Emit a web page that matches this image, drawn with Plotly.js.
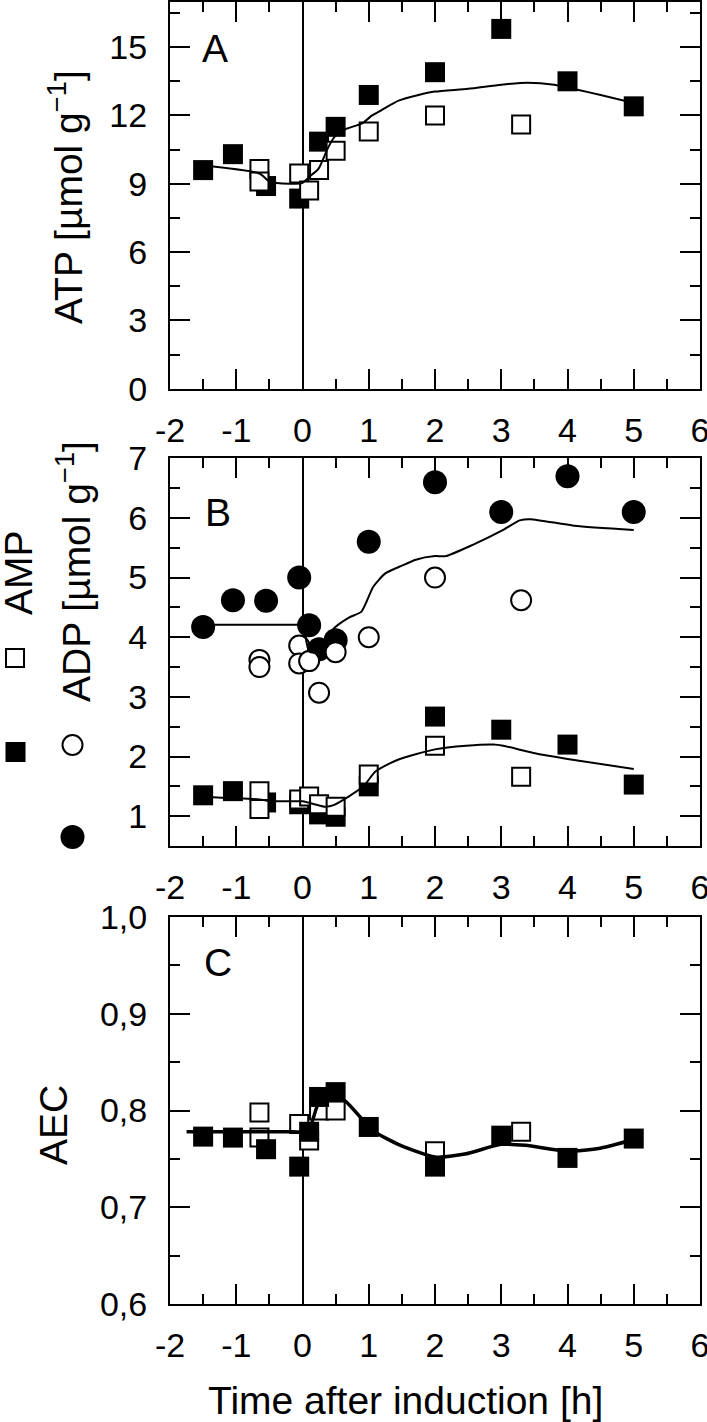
<!DOCTYPE html>
<html>
<head>
<meta charset="utf-8">
<script src="https://cdn.plot.ly/plotly-3.0.1.min.js"></script>
<style>html,body{margin:0;padding:0;background:#fff;}#chart{width:707px;height:1422px;}</style>
</head>
<body>
<div id="chart"></div>
<script>
// ---------- DATA ----------
// Panel A : ATP [µmol g-1]
const atpFilledT = [-1.5, -1.05, -0.55, -0.05, 0.25, 0.5, 1, 2, 3, 4, 5];
const atpFilled  = [9.6, 10.3, 8.9, 8.35, 10.85, 11.5, 12.9, 13.9, 15.8, 13.5, 12.4];
const atpOpenT   = [-0.65, -0.65, -0.05, 0.1, 0.25, 0.5, 1, 2, 3.3];
const atpOpen    = [9.65, 9.1, 9.45, 8.7, 9.6, 10.45, 11.3, 12.0, 11.6];
const atpFitT    = [-1.5, -0.65, -0.5, -0.2, 0, 0.1, 0.24, 0.38, 0.48, 0.65, 0.9, 1.05, 1.2, 1.45, 1.75, 2.0, 2.5, 3.0, 3.4, 3.8, 4.15, 4.5, 5.0];
const atpFit     = [9.8, 9.45, 9.1, 9.0, 9.04, 9.3, 9.65, 10.55, 11.05, 11.4, 11.65, 12.0, 12.25, 12.65, 12.9, 13.05, 13.17, 13.35, 13.44, 13.35, 13.13, 12.9, 12.55];

// Panel B : ADP and AMP [µmol g-1]
const adpFilledT = [-1.5, -1.05, -0.55, -0.05, 0.1, 0.25, 0.5, 1, 2, 3, 4, 5];
const adpFilled  = [4.17, 4.62, 4.61, 5.0, 4.2, 3.8, 3.95, 5.6, 6.6, 6.1, 6.7, 6.1];
const adpOpenT   = [-0.65, -0.65, -0.05, -0.05, 0.1, 0.25, 0.5, 1, 2, 3.3];
const adpOpen    = [3.62, 3.5, 3.86, 3.56, 3.6, 3.07, 3.75, 4.0, 5.0, 4.62];
const adpFitT    = [-1.5, -1.0, -0.5, -0.1, 0, 0.1, 0.25, 0.38, 0.46, 0.7, 0.89, 1.07, 1.25, 1.5, 1.71, 2.0, 2.16, 2.57, 3.03, 3.28, 3.44, 4.1, 5.0];
const adpFit     = [4.21, 4.21, 4.21, 4.21, 4.21, 3.76, 3.74, 3.85, 4.13, 4.33, 4.43, 4.85, 5.07, 5.2, 5.3, 5.36, 5.36, 5.55, 5.8, 5.96, 5.98, 5.87, 5.8];

const ampFilledT = [-1.5, -1.05, -0.55, -0.05, 0.25, 0.5, 1, 2, 3, 4, 5];
const ampFilled  = [1.35, 1.42, 1.23, 1.2, 1.03, 0.99, 1.5, 2.67, 2.45, 2.2, 1.53];
const ampOpenT   = [-0.65, -0.65, -0.05, 0.1, 0.25, 0.5, 1, 2, 3.3];
const ampOpen    = [1.42, 1.12, 1.28, 1.33, 1.2, 1.16, 1.7, 2.18, 1.66];
const ampFitT    = [-1.5, -0.65, -0.48, 0, 0.08, 0.33, 0.48, 0.92, 1.1, 1.45, 2.0, 2.47, 2.88, 3.03, 3.49, 4.0, 5.0];
const ampFit     = [1.32, 1.28, 1.25, 1.25, 1.23, 1.16, 1.19, 1.5, 1.75, 1.95, 2.12, 2.18, 2.2, 2.18, 2.06, 1.96, 1.79];

// Panel C : AEC
const aecFilledT = [-1.5, -1.05, -0.55, -0.05, 0.1, 0.25, 0.5, 1, 2, 3, 4, 5];
const aecFilled  = [0.773, 0.772, 0.760, 0.742, 0.778, 0.814, 0.819, 0.783, 0.742, 0.774, 0.751, 0.771];
const aecOpenT   = [-0.65, -0.65, -0.05, 0.1, 0.25, 0.5, 2, 3.3];
const aecOpen    = [0.798, 0.772, 0.786, 0.769, 0.80, 0.80, 0.758, 0.778];
const aecFitT    = [-1.75, -1.0, -0.15, 0.08, 0.26, 0.51, 0.66, 1.07, 1.48, 2.0, 2.45, 3.0, 3.37, 4.0, 4.49, 5.0];
const aecFit     = [0.778, 0.778, 0.778, 0.778, 0.81, 0.815, 0.809, 0.779, 0.764, 0.752, 0.755, 0.765, 0.764, 0.758, 0.761, 0.770];

// Ticks and labels
const xTickVals = [-2, -1, 0, 1, 2, 3, 4, 5, 6];
const xTickText = ['-2', '-1', '0', '1', '2', '3', '4', '5', '6'];
const atpTickVals = [0, 3, 6, 9, 12, 15];
const atpTickText = ['0', '3', '6', '9', '12', '15'];
const nucTickVals = [1, 2, 3, 4, 5, 6, 7];
const nucTickText = ['1', '2', '3', '4', '5', '6', '7'];
const aecTickVals = [0.6, 0.7, 0.8, 0.9, 1.0];
const aecTickText = ['0,6', '0,7', '0,8', '0,9', '1,0'];

const panelLabels = ['A', 'B', 'C'];
const xTitle = 'Time after induction [h]';
const atpTitle = 'ATP [µmol g<sup>−1</sup>]';
const ampTitle = 'AMP';
const adpTitle = 'ADP [µmol g<sup>−1</sup>]';
const aecTitle = 'AEC';

// ---------- LAYOUT HELPERS ----------
const W = 707, H = 1422;
const px = v => v / W;
const py = v => 1 - v / H;
const FONT = 'Liberation Sans, Arial, Helvetica, sans-serif';

const filledSq = {symbol: 'square', size: 20, color: 'black', line: {width: 0}};
const openSq = {symbol: 'square', size: 18, color: 'white', line: {width: 2, color: 'black'}};
const filledCi = {symbol: 'circle', size: 24, color: 'black', line: {width: 0}};
const openCi = {symbol: 'circle', size: 20, color: 'white', line: {width: 2, color: 'black'}};

function pts(x, y, marker, xa, ya) {
  return {x: x, y: y, type: 'scatter', mode: 'markers', marker: marker, xaxis: xa, yaxis: ya, cliponaxis: false, hoverinfo: 'skip'};
}
function fit(x, y, w, xa, ya) {
  return {x: x, y: y, type: 'scatter', mode: 'lines', line: {color: 'black', width: w, shape: 'spline', smoothing: 0.6}, xaxis: xa, yaxis: ya, hoverinfo: 'skip'};
}

const traces = [
  pts(atpFilledT, atpFilled, filledSq, 'x', 'y'),
  pts(atpOpenT, atpOpen, openSq, 'x', 'y'),
  fit(atpFitT, atpFit, 2, 'x', 'y'),

  pts(adpFilledT, adpFilled, filledCi, 'x2', 'y2'),
  pts(adpOpenT, adpOpen, openCi, 'x2', 'y2'),
  pts(ampFilledT, ampFilled, filledSq, 'x2', 'y2'),
  pts(ampOpenT, ampOpen, openSq, 'x2', 'y2'),
  fit(adpFitT, adpFit, 2, 'x2', 'y2'),
  fit(ampFitT, ampFit, 2, 'x2', 'y2'),

  pts(aecOpenT, aecOpen, openSq, 'x3', 'y3'),
  pts(aecFilledT, aecFilled, filledSq, 'x3', 'y3'),
  fit(aecFitT, aecFit, 3.5, 'x3', 'y3'),
];

const tickFont = {family: FONT, size: 34, color: 'black'};
const xDomain = [px(170), px(700)];

function xAxis(anchor) {
  return {
    domain: xDomain, anchor: anchor, range: [-2, 6],
    tickmode: 'array', tickvals: xTickVals, ticktext: xTickText,
    ticks: 'inside', ticklen: 20, tickwidth: 2, tickcolor: 'black',
    minor: {tickmode: 'linear', tick0: 0, dtick: 0.5, ticks: 'inside', ticklen: 10, tickwidth: 2, tickcolor: 'black', showgrid: false},
    showline: true, linewidth: 2, linecolor: 'black', mirror: 'ticks',
    zeroline: true, zerolinewidth: 2, zerolinecolor: 'black',
    showgrid: false, tickfont: tickFont, ticklabelstandoff: 10,
    ticklabeloverflow: 'allow', fixedrange: true
  };
}
function yAxis(anchor, domain, range, tv, tt, minorD) {
  return {
    domain: domain, anchor: anchor, range: range,
    tickmode: 'array', tickvals: tv, ticktext: tt,
    ticks: 'inside', ticklen: 20, tickwidth: 2, tickcolor: 'black',
    minor: {tickmode: 'linear', tick0: 0, dtick: minorD, ticks: 'inside', ticklen: 10, tickwidth: 2, tickcolor: 'black', showgrid: false},
    showline: true, linewidth: 2, linecolor: 'black', mirror: 'ticks',
    zeroline: false, showgrid: false, tickfont: tickFont, ticklabelstandoff: 14,
    ticklabeloverflow: 'allow', fixedrange: true
  };
}

const titleFont = {family: FONT, size: 39, color: 'black'};
function ann(text, x, y, angle) {
  return {text: text, x: px(x), y: py(y), xref: 'paper', yref: 'paper', showarrow: false,
          xanchor: 'center', yanchor: 'middle', textangle: angle || 0, font: titleFont};
}

// legend keys beside the rotated AMP / ADP labels (layout shapes, pixel positions)
function keyShape(type, cx, cy, side, filled) {
  const h = side / 2;
  return {type: type, xref: 'paper', yref: 'paper', layer: 'above',
          x0: px(cx - h), x1: px(cx + h), y0: py(cy + h), y1: py(cy - h),
          fillcolor: filled ? 'black' : 'white',
          line: {color: 'black', width: filled ? 0 : 2}};
}

const layout = {
  width: W, height: H,
  margin: {l: 0, r: 0, t: 0, b: 0, pad: 0},
  paper_bgcolor: 'white', plot_bgcolor: 'white',
  showlegend: false,
  font: {family: FONT, color: 'black'},
  xaxis: xAxis('y'),
  yaxis: yAxis('x', [py(388.7), py(1.6)], [0, 17], atpTickVals, atpTickText, 1.5),
  xaxis2: xAxis('y2'),
  yaxis2: yAxis('x2', [py(846), py(458.3)], [0.5, 7], nucTickVals, nucTickText, 0.5),
  xaxis3: xAxis('y3'),
  yaxis3: yAxis('x3', [py(1304), py(917)], [0.6, 1.0], aecTickVals, aecTickText, 0.05),
  shapes: [
    keyShape('rect', 15, 658, 18, false),
    keyShape('rect', 15.5, 752, 20, true),
    keyShape('circle', 72.5, 745, 20, false),
    keyShape('circle', 72.5, 837, 24, true)
  ],
  annotations: [
    ann(panelLabels[0], 215, 48),
    ann(panelLabels[1], 218, 513),
    ann(panelLabels[2], 218, 962),
    ann(atpTitle, 65, 197, -90),
    ann(ampTitle, 18, 573, -90),
    ann(adpTitle, 73, 572, -90),
    ann(aecTitle, 53, 1125, -90),
    ann(xTitle, 405, 1400, 0)
  ]
};

Plotly.newPlot('chart', traces, layout, {staticPlot: true, displayModeBar: false});
</script>
</body>
</html>
